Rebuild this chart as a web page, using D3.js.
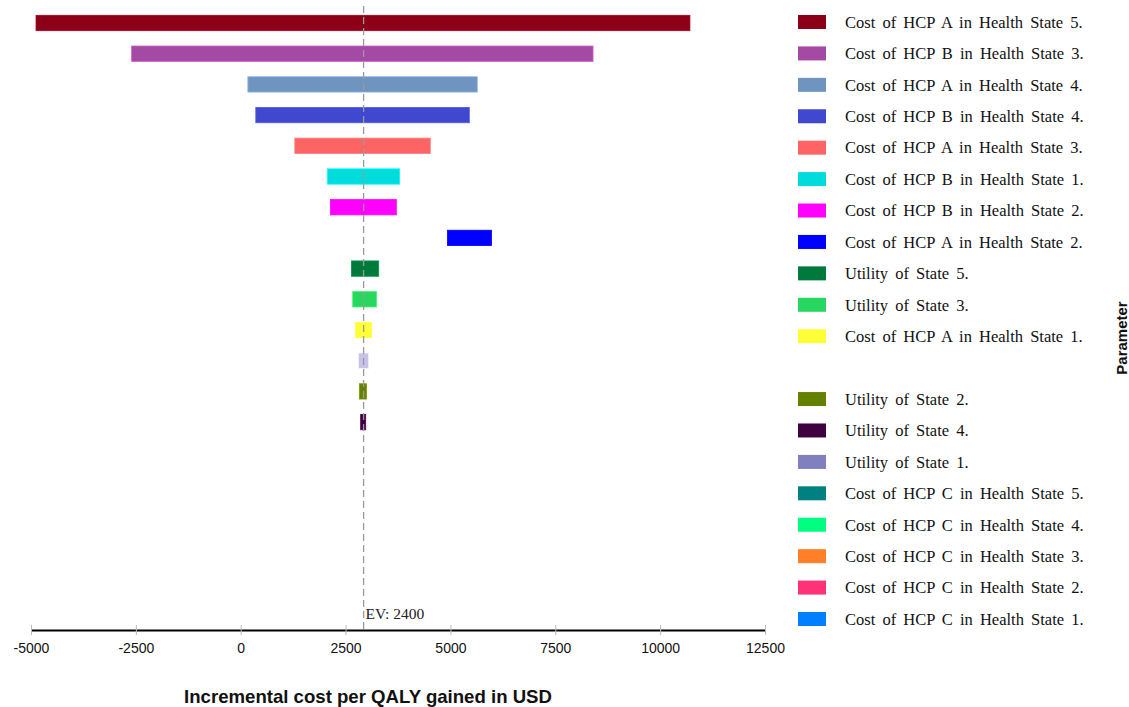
<!DOCTYPE html>
<html>
<head>
<meta charset="utf-8">
<script src="https://cdn.jsdelivr.net/npm/d3@7"></script>
<style>
  body { margin: 0; background: #fff; }
  svg { display: block; }
</style>
</head>
<body>
<div id="tornado"></div>
<script>
// parameters in the order the bars are stacked (top -> bottom)
const barParams = [
  "Cost of HCP A in Health State 5.", "Cost of HCP B in Health State 3.",
  "Cost of HCP A in Health State 4.", "Cost of HCP B in Health State 4.",
  "Cost of HCP A in Health State 3.", "Cost of HCP B in Health State 1.",
  "Cost of HCP B in Health State 2.", "Cost of HCP A in Health State 2.",
  "Utility of State 5.", "Utility of State 3.", "Cost of HCP A in Health State 1.",
  "Utility of State 1.", "Utility of State 2.", "Utility of State 4.",
  "Cost of HCP C in Health State 5.", "Cost of HCP C in Health State 4.",
  "Cost of HCP C in Health State 3.", "Cost of HCP C in Health State 2.",
  "Cost of HCP C in Health State 1."
];
const lowValues  = [-4880, -2600, 170, 360, 1290, 2070, 2140, 4930, 2640, 2670, 2740, 2810, 2830, 2860, 2930, 2930, 2930, 2930, 2930];
const highValues = [10710, 8400, 5640, 5450, 4520, 3790, 3710, 5980, 3290, 3240, 3120, 3050, 3000, 2980, 2930, 2930, 2930, 2930, 2930];

// legend order (null = empty row)
const legendParams = [
  "Cost of HCP A in Health State 5.", "Cost of HCP B in Health State 3.",
  "Cost of HCP A in Health State 4.", "Cost of HCP B in Health State 4.",
  "Cost of HCP A in Health State 3.", "Cost of HCP B in Health State 1.",
  "Cost of HCP B in Health State 2.", "Cost of HCP A in Health State 2.",
  "Utility of State 5.", "Utility of State 3.", "Cost of HCP A in Health State 1.",
  null,
  "Utility of State 2.", "Utility of State 4.", "Utility of State 1.",
  "Cost of HCP C in Health State 5.", "Cost of HCP C in Health State 4.",
  "Cost of HCP C in Health State 3.", "Cost of HCP C in Health State 2.",
  "Cost of HCP C in Health State 1."
];

const xTicks = [-5000, -2500, 0, 2500, 5000, 7500, 10000, 12500];
const evValue = 2930;
const evLabel = "EV: 2400";

const colors = {
  "Cost of HCP A in Health State 5.": "#8b0016",
  "Cost of HCP B in Health State 3.": "#a44aa4",
  "Cost of HCP A in Health State 4.": "#7094c0",
  "Cost of HCP B in Health State 4.": "#4048d0",
  "Cost of HCP A in Health State 3.": "#ff6464",
  "Cost of HCP B in Health State 1.": "#00dcdc",
  "Cost of HCP B in Health State 2.": "#ff00ff",
  "Cost of HCP A in Health State 2.": "#0000ff",
  "Utility of State 5.": "#007a3c",
  "Utility of State 3.": "#28d75f",
  "Cost of HCP A in Health State 1.": "#ffff38",
  "Utility of State 2.": "#648000",
  "Utility of State 4.": "#400040",
  "Utility of State 1.": "#8080c0",
  "Cost of HCP C in Health State 5.": "#008080",
  "Cost of HCP C in Health State 4.": "#00ff80",
  "Cost of HCP C in Health State 3.": "#ff8028",
  "Cost of HCP C in Health State 2.": "#ff3278",
  "Cost of HCP C in Health State 1.": "#0080ff"
};
// the bar for utility 1 is drawn paler than its legend swatch
const barColors = Object.assign({}, colors, { "Utility of State 1.": "#c8c2e8" });

const width = 1129, height = 707;

const svg = d3.select("#tornado").append("svg")
  .attr("width", width).attr("height", height);

const x = d3.scaleLinear().domain([-5000, 12500]).range([31, 765]);

const y = d3.scaleBand()
  .domain(d3.range(20))
  .range([7.65, 621.65])
  .paddingInner(0.5)
  .paddingOuter(0.25);

const data = barParams.map((p, i) => ({ name: p, lo: lowValues[i], hi: highValues[i], i: i }));

// bars
svg.append("g").selectAll("rect")
  .data(data.filter(d => d.hi > d.lo))
  .join("rect")
  .attr("x", d => x(d.lo))
  .attr("y", d => y(d.i))
  .attr("width", d => x(d.hi) - x(d.lo))
  .attr("height", y.bandwidth())
  .attr("fill", d => barColors[d.name])
  .attr("stroke", d => d3.color(barColors[d.name]).brighter(0.6))
  .attr("stroke-width", 0.8);

// EV dashed line
svg.append("line")
  .attr("x1", x(evValue)).attr("x2", x(evValue))
  .attr("y1", 6).attr("y2", 630)
  .attr("stroke", "#9a9a9a")
  .attr("stroke-width", 1.3)
  .attr("stroke-dasharray", "7,4");

svg.append("text")
  .attr("x", x(evValue) + 2).attr("y", 619)
  .attr("font-family", "Liberation Serif, serif")
  .attr("font-size", 15.5)
  .attr("fill", "#222")
  .text(evLabel);

// x axis
const axis = svg.append("g")
  .attr("transform", "translate(0,630)")
  .call(d3.axisBottom(x).tickValues(xTicks).tickFormat(d => String(d))
    .tickSize(5).tickSizeOuter(0).tickPadding(8));
axis.select(".domain").attr("stroke", "#000").attr("stroke-width", 2);
axis.selectAll(".tick line").attr("stroke", "#bbb").attr("y1", -5);
axis.selectAll(".tick text")
  .attr("font-family", "Liberation Sans Narrow, Liberation Sans, Arial, sans-serif")
  .attr("font-size", 14)
  .attr("fill", "#111");

svg.append("text")
  .attr("x", 368).attr("y", 703)
  .attr("text-anchor", "middle")
  .attr("font-family", "Liberation Sans, Arial, sans-serif")
  .attr("font-weight", "bold")
  .attr("font-size", 18.6)
  .attr("fill", "#111")
  .text("Incremental cost per QALY gained in USD");

// legend
const ly = d3.scalePoint().domain(d3.range(legendParams.length)).range([22, 619]);
const legend = svg.append("g").selectAll("g")
  .data(legendParams.map((p, i) => ({ name: p, i: i })).filter(d => d.name))
  .join("g")
  .attr("transform", d => `translate(798,${ly(d.i)})`);

legend.append("rect")
  .attr("x", 0).attr("y", -7)
  .attr("width", 28).attr("height", 14)
  .attr("fill", d => colors[d.name]);

legend.append("text")
  .attr("x", 47).attr("y", 0)
  .attr("dy", "0.35em")
  .attr("font-family", "Liberation Serif, 'Times New Roman', serif")
  .attr("font-size", 16.5)
  .attr("word-spacing", 3)
  .attr("fill", "#111")
  .text(d => d.name);

svg.append("text")
  .attr("transform", "translate(1127,338) rotate(-90)")
  .attr("text-anchor", "middle")
  .attr("font-family", "Liberation Sans, Arial, sans-serif")
  .attr("font-weight", "bold")
  .attr("font-size", 15)
  .attr("fill", "#111")
  .text("Parameter");
</script>
</body>
</html>
